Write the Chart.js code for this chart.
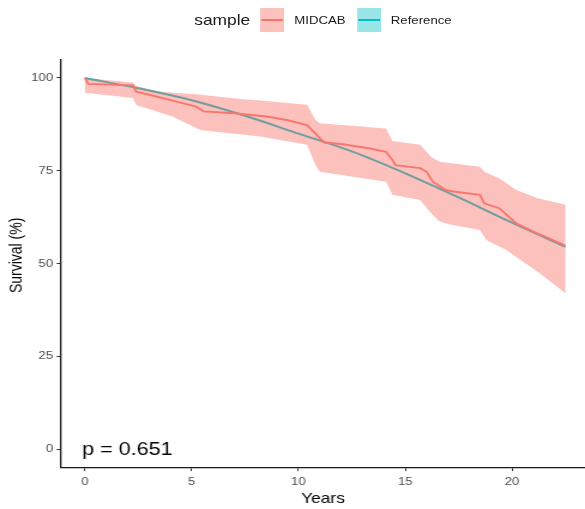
<!DOCTYPE html>
<html>
<head>
<meta charset="utf-8">
<script src="https://cdn.jsdelivr.net/npm/chart.js@4/dist/chart.umd.min.js"></script>
<style>
  html, body { margin: 0; padding: 0; background: #fff; overflow: hidden; width: 585px; height: 509px; }
  #wrap { position: absolute; left: 0; top: 0; width: 488px; height: 509px; transform: scaleX(1.19877); transform-origin: 0 0; font-family: "Liberation Sans", Arial, sans-serif; }
  #c { position: absolute; left: 0; top: 0; }
  .lg { position: absolute; white-space: nowrap; color: #1a1a1a; }
  .key { position: absolute; top: 8px; width: 20px; height: 24px; }
  .key i { position: absolute; left: 1px; right: 1px; top: 11.2px; height: 1.8px; }
</style>
</head>
<body>
<div id="wrap">
  <canvas id="c" width="488" height="509"></canvas>
  <div class="lg" style="left:162px; top:11.5px; font-size:14.5px; line-height:17px;">sample</div>
  <div class="key" style="left:217px; background:rgba(248,118,109,0.45);"><i style="background:#F8766D"></i></div>
  <div class="lg" style="left:245.5px; top:14px; font-size:11px; line-height:13px;">MIDCAB</div>
  <div class="key" style="left:298px; background:rgba(0,191,196,0.4);"><i style="background:#00BFC4"></i></div>
  <div class="lg" style="left:326px; top:14px; font-size:11px; line-height:13px;">Reference</div>
</div>
<script>
// ---- data ----
const xTicks = [0, 5, 10, 15, 20];
const yTicks = [0, 25, 50, 75, 100];

// Reference (expected) survival curve
const refT = [0, 2.5, 5, 7.5, 10, 12.5, 15, 17.5, 20, 22.5];
const refS = [100, 97.2, 94.0, 89.8, 85.0, 80.2, 74.3, 67.8, 61.0, 54.5];

// MIDCAB Kaplan-Meier estimate
const midT = [0, 0.15, 2.25, 2.4, 3.35, 4.1, 5.2, 5.55, 7.0, 8.5, 9.5, 10.4, 10.8, 11.2, 12.0, 13.35, 14.1, 14.4, 14.55, 15.7, 16.0, 16.3, 16.9, 17.25, 18.5, 18.7, 19.4, 20.2, 21.0, 22.5];
const midS = [100, 98.4, 98.0, 96.3, 95.0, 93.9, 92.3, 91.0, 90.5, 89.6, 88.6, 87.3, 85.0, 82.6, 82.2, 81.0, 80.1, 77.9, 76.5, 75.7, 74.7, 72.0, 69.8, 69.4, 68.5, 66.2, 64.9, 60.8, 58.6, 54.8];

// MIDCAB confidence band
const upT = [0, 2.25, 2.4, 3.5, 5.2, 7.3, 8.5, 10.4, 10.8, 11.0, 14.1, 14.4, 15.7, 16.2, 16.6, 18.5, 18.7, 19.4, 20.2, 21.2, 22.5];
const upS = [100, 98.8, 97.8, 96.3, 95.6, 94.3, 93.8, 92.8, 88.7, 87.8, 86.4, 83.0, 82.0, 78.8, 77.4, 76.1, 74.7, 73.0, 69.8, 67.6, 65.8];
const loT = [0, 2.25, 2.4, 4.1, 5.4, 8.2, 10.4, 10.8, 11.0, 14.1, 14.4, 15.7, 16.2, 16.6, 17.1, 18.5, 18.8, 19.75, 21.3, 22.5];
const loS = [96.0, 94.6, 92.7, 89.6, 86.0, 84.2, 82.0, 76.5, 74.7, 72.0, 68.5, 67.1, 63.6, 61.3, 60.5, 59.0, 56.3, 53.6, 47.4, 42.0];

const pText = 'p = 0.651';
const yTitle = 'Survival (%)';
// -----------------------------------------------

const pts = (t, s) => t.map((v, i) => ({ x: v, y: s[i] }));
const bandPts = pts(upT, upS).concat(pts(loT, loS).reverse());

const FONT = '"Liberation Sans", Arial, sans-serif';

const textPlugin = {
  id: 'texts',
  afterDatasetsDraw(chart) {
    const { ctx, scales } = chart;
    ctx.save();
    ctx.font = '18px ' + FONT;
    ctx.fillStyle = '#000';
    ctx.textAlign = 'left';
    ctx.textBaseline = 'middle';
    ctx.fillText(pText, scales.x.getPixelForValue(-0.13), scales.y.getPixelForValue(-0.4));
    ctx.restore();
  },
  afterDraw(chart) {
    const { ctx, scales } = chart;
    ctx.save();
    ctx.font = '14px ' + FONT;
    ctx.fillStyle = '#000';
    ctx.textAlign = 'center';
    ctx.textBaseline = 'middle';
    ctx.translate(14.3, scales.y.getPixelForValue(52.2));
    ctx.rotate(-Math.PI / 2);
    ctx.fillText(yTitle, 0, 0);
    ctx.restore();
  }
};

new Chart(document.getElementById('c'), {
  type: 'line',
  data: {
    datasets: [
      { label: 'Reference', data: pts(refT, refS), borderColor: '#00BFC4', borderWidth: 2,
        pointRadius: 0, fill: false, cubicInterpolationMode: 'monotone', order: 3 },
      { label: 'band', data: bandPts, borderWidth: 0, borderColor: 'rgba(0,0,0,0)',
        backgroundColor: 'rgba(248,118,109,0.45)', pointRadius: 0, fill: 'shape', tension: 0, order: 2 },
      { label: 'MIDCAB', data: pts(midT, midS), borderColor: '#F8766D', borderWidth: 1.9,
        pointRadius: 0, fill: false, tension: 0, order: 1 }
    ]
  },
  options: {
    responsive: false,
    devicePixelRatio: 1,
    animation: false,
    events: [],
    layout: { padding: { top: 59.4, right: 0, left: 0, bottom: 0 } },
    plugins: { legend: { display: false }, tooltip: { enabled: false }, filler: { drawTime: 'beforeDatasetDraw' } },
    scales: {
      x: {
        type: 'linear', min: -1.125, max: 23.42,
        afterBuildTicks: s => { s.ticks = xTicks.map(v => ({ value: v })); },
        afterFit: s => { s.height = 41.4; },
        ticks: { color: '#4d4d4d', font: { family: FONT, size: 11 }, padding: 4, maxRotation: 0, autoSkip: false },
        grid: { display: true, drawOnChartArea: false, drawTicks: true, tickLength: 3.5, color: '#333', lineWidth: 1 },
        border: { display: true, color: '#1a1a1a', width: 1.3 },
        title: { display: true, text: 'Years', color: '#000', font: { family: FONT, size: 14.5 }, padding: { top: 0, bottom: 1.5 } }
      },
      y: {
        type: 'linear', min: -5, max: 105,
        afterBuildTicks: s => { s.ticks = yTicks.map(v => ({ value: v })); },
        afterFit: s => { s.width = 50.8; },
        ticks: { color: '#4d4d4d', font: { family: FONT, size: 11 }, padding: 3, autoSkip: false },
        grid: { display: true, drawOnChartArea: false, drawTicks: true, tickLength: 3.5, color: '#333', lineWidth: 1 },
        border: { display: true, color: '#1a1a1a', width: 1.3 },
        title: { display: false }
      }
    }
  },
  plugins: [textPlugin]
});
</script>
</body>
</html>
